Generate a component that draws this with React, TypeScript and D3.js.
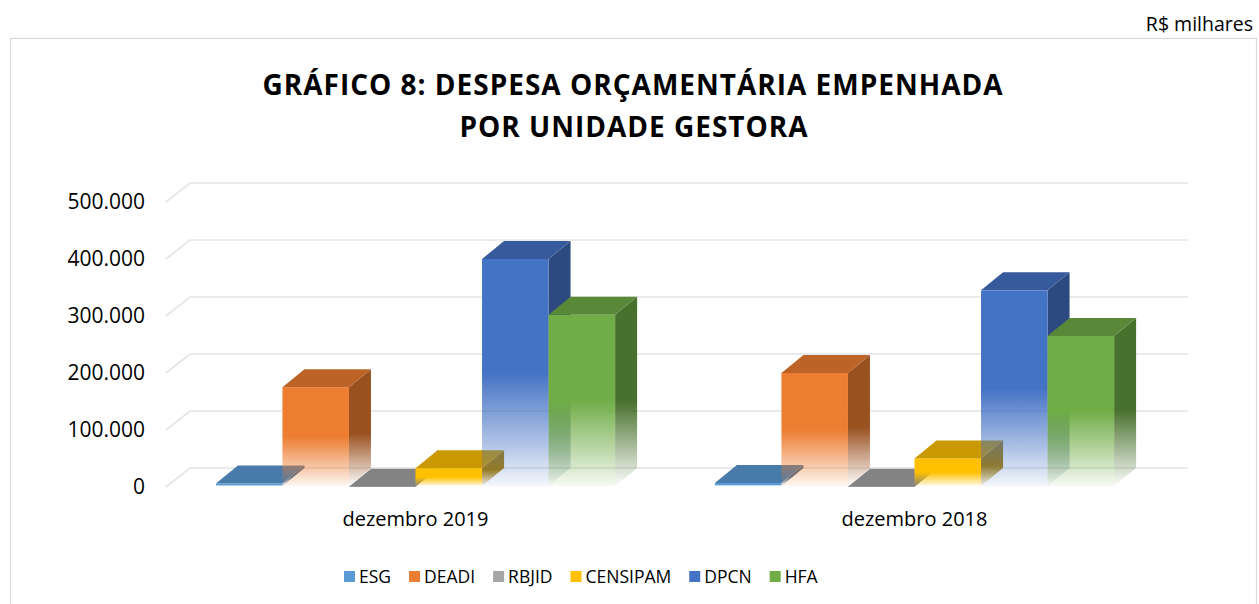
import React from "react";
import * as d3 from "d3";

const categories = ["dezembro 2019", "dezembro 2018"];
const seriesNames = ["ESG", "DEADI", "RBJID", "CENSIPAM", "DPCN", "HFA"];
const esg = [6000, 7000];
const deadi = [175000, 200000];
const rbjid = [600, 500];
const censipam = [33000, 50000];
const dpcn = [400000, 345000];
const hfa = [302000, 265000];
const seriesColors = ["#5B9BD5", "#ED7D31", "#A5A5A5", "#FFC000", "#4472C4", "#70AD47"];
const yTicks = [0, 100000, 200000, 300000, 400000, 500000];

const seriesValues = [esg, deadi, rbjid, censipam, dpcn, hfa];

const W = 1259;
const H = 604;
// 3d offsets
const gridDx = 24;
const gridDy = -19;
const barDx = 22;
const barDy = -18;

const ptBR = d3.formatLocale({
  decimal: ",",
  thousands: ".",
  grouping: [3],
  currency: ["R$", ""],
});
const fmt = ptBR.format(",");

const font = '"Open Sans", "DejaVu Sans", sans-serif';

function measure(text: string, size: number) {
  const ctx = document.createElement("canvas").getContext("2d");
  if (!ctx) return text.length * size * 0.55;
  ctx.font = `${size}px "Open Sans"`;
  return ctx.measureText(text).width;
}

const App = () => {
  const x0 = d3
    .scaleBand()
    .domain(categories)
    .range([166, 1164])
    .paddingInner(0.2)
    .paddingOuter(0.1);
  const x1 = d3
    .scaleBand()
    .domain(seriesNames)
    .range([0, x0.bandwidth()])
    .padding(0);
  const y = d3.scaleLinear().domain([0, 500000]).range([487, 202]);

  // legend layout
  const legendSize = 17.5;
  let lx = 344;
  const legendItems = seriesNames.map((name, i) => {
    const item = { name, x: lx, color: seriesColors[i] };
    lx += 11 + 4 + measure(name, legendSize) + 18;
    return item;
  });

  return (
    <svg
      width={W}
      height={H}
      style={{ position: "absolute", left: 0, top: 0 }}
      fontFamily={font}
    >
      <defs>
        {seriesColors.map((c, i) => {
          const side = d3.color(c)!.darker(1.2).formatHex();
          return (
            <React.Fragment key={i}>
              <linearGradient id={`front${i}`} x1="0" y1="0" x2="0" y2="1">
                <stop offset="0" stopColor={c} stopOpacity={1} />
                <stop offset="0.5" stopColor={c} stopOpacity={1} />
                <stop offset="0.8" stopColor={c} stopOpacity={0.45} />
                <stop offset="1" stopColor={c} stopOpacity={0.06} />
              </linearGradient>
              <linearGradient id={`side${i}`} x1="0" y1="0" x2="0" y2="1">
                <stop offset="0" stopColor={side} stopOpacity={1} />
                <stop offset="0.55" stopColor={side} stopOpacity={1} />
                <stop offset="0.85" stopColor={side} stopOpacity={0.35} />
                <stop offset="1" stopColor={side} stopOpacity={0.02} />
              </linearGradient>
            </React.Fragment>
          );
        })}
      </defs>
      <rect x={0} y={0} width={W} height={H} fill="#fff" />
      <text x={1253} y={31} textAnchor="end" fontSize={19.5} fill="#000">
        R$ milhares
      </text>
      <rect x={10.5} y={38.5} width={1246} height={H} fill="#fff" stroke="#d9d9d9" strokeWidth={1.2} />

      <text x={633} y={95} textAnchor="middle" fontSize={28} fontWeight={700} letterSpacing={1} fill="#000">
        GRÁFICO 8: DESPESA ORÇAMENTÁRIA EMPENHADA
      </text>
      <text x={634} y={137} textAnchor="middle" fontSize={28} fontWeight={700} letterSpacing={1} fill="#000">
        POR UNIDADE GESTORA
      </text>

      {/* gridlines */}
      <g stroke="#e4e4e4" strokeWidth={1.6} fill="none">
        {yTicks.map((t) => (
          <path
            key={t}
            d={`M${166},${y(t)}L${166 + gridDx},${y(t) + gridDy}L${1164 + gridDx},${y(t) + gridDy}`}
          />
        ))}
      </g>
      <g fontSize={21} fill="#000" textAnchor="end">
        {yTicks.map((t) => (
          <text key={t} x={145} y={y(t)} dy="0.35em">
            {fmt(t)}
          </text>
        ))}
      </g>

      {/* bars */}
      {categories.map((cat, ci) => (
        <g key={cat}>
          {seriesNames.map((s, si) => {
            const v = seriesValues[si][ci];
            const bx = (x0(cat) ?? 0) + (x1(s) ?? 0);
            const bw = x1.bandwidth();
            const yt = y(v);
            const yb = y(0) - 1;
            const c = seriesColors[si];
            const top = d3.color(c)!.darker(0.65).formatHex();
            return (
              <g key={s}>
                <path
                  d={`M${bx + bw},${yt}L${bx + bw + barDx},${yt + barDy}L${bx + bw + barDx},${yb + barDy}L${bx + bw},${yb}Z`}
                  fill={`url(#side${si})`}
                />
                <rect x={bx} y={Math.min(yt, yb)} width={bw} height={Math.max(yb - yt, 0.8)} fill={`url(#front${si})`} />
                <path
                  d={`M${bx},${yt}L${bx + barDx},${yt + barDy}L${bx + bw + barDx},${yt + barDy}L${bx + bw},${yt}Z`}
                  fill={top}
                />
              </g>
            );
          })}
          <text
            x={(x0(cat) ?? 0) + x0.bandwidth() / 2}
            y={526}
            textAnchor="middle"
            fontSize={20}
            fill="#000"
          >
            {cat}
          </text>
        </g>
      ))}

      {/* legend */}
      <g>
        {legendItems.map((it) => (
          <g key={it.name}>
            <rect x={it.x} y={571} width={11} height={11} fill={it.color} />
            <text x={it.x + 15} y={577} dy="0.35em" fontSize={legendSize} fill="#000">
              {it.name}
            </text>
          </g>
        ))}
      </g>
    </svg>
  );
};

export default App;
